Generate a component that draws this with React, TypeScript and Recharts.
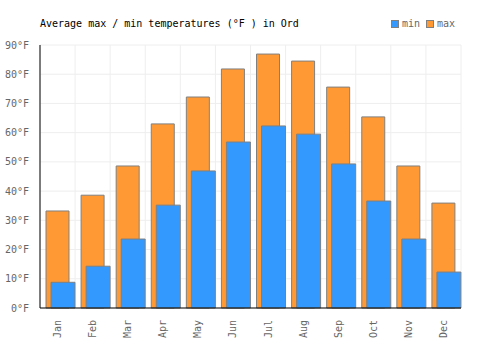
import { BarChart, Bar, XAxis, YAxis, CartesianGrid, Rectangle } from 'recharts';

const months = ['Jan', 'Feb', 'Mar', 'Apr', 'May', 'Jun', 'Jul', 'Aug', 'Sep', 'Oct', 'Nov', 'Dec'];
const maxTemps = [33.2, 38.6, 48.6, 63.0, 72.2, 81.8, 86.9, 84.5, 75.6, 65.4, 48.6, 35.9];
const minTemps = [8.8, 14.3, 23.6, 35.2, 46.9, 56.8, 62.3, 59.5, 49.3, 36.6, 23.6, 12.3];
const yTicks = [0, 10, 20, 30, 40, 50, 60, 70, 80, 90];

const data = months.map((m, i) => ({ month: m, max: maxTemps[i], min: minTemps[i] }));

const FONT = '"DejaVu Sans Mono", monospace';
const BLUE = '#3399ff';
const ORANGE = '#ff9933';
const EDGE = '#808080';

// bars sit a little right of centre in each month slot
const ShiftedBar = (props: any) => <Rectangle {...props} x={props.x + 3} />;

const MonthTick = ({ x, y, payload }: any) => (
  <text
    x={x}
    y={y}
    transform={`rotate(-90, ${x}, ${y})`}
    textAnchor="end"
    dominantBaseline="central"
    fill="#666"
    fontSize={10}
    fontFamily={FONT}
  >
    {payload.value}
  </text>
);

export default function App() {
  return (
    <div style={{ position: 'absolute', left: 0, top: 0, width: 500, height: 350, background: '#fff' }}>
      <div style={{ position: 'absolute', left: 40, top: 18, fontFamily: FONT, fontSize: 10, color: '#000' }}>
        Average max / min temperatures (°F ) in Ord
      </div>
      <div style={{ position: 'absolute', left: 391, top: 18, fontFamily: FONT, fontSize: 10, color: '#666', display: 'flex', alignItems: 'center' }}>
        <span style={{ width: 6, height: 6, background: BLUE, border: `1px solid ${EDGE}`, marginRight: 3 }} />
        <span style={{ marginRight: 6 }}>min</span>
        <span style={{ width: 6, height: 6, background: ORANGE, border: `1px solid ${EDGE}`, marginRight: 3 }} />
        <span>max</span>
      </div>
      <BarChart
        width={500}
        height={350}
        data={data}
        margin={{ top: 45, right: 39, left: 0, bottom: 0 }}
        barGap={-18}
      >
        <CartesianGrid
          stroke="#eeeeee"
          verticalCoordinatesGenerator={({ offset }: any) =>
            months.map((_, i) => offset.left + (i * offset.width) / months.length).concat(offset.left + offset.width)
          }
        />
        <XAxis
          dataKey="month"
          height={42}
          tickLine={false}
          axisLine={{ stroke: '#000' }}
          tick={<MonthTick />}
          tickMargin={6}
          interval={0}
        />
        <YAxis
          width={40}
          domain={[0, 90]}
          ticks={yTicks}
          tickLine={false}
          axisLine={{ stroke: '#000' }}
          tickFormatter={(v: number) => `${v}°F`}
          tick={{ fill: '#666', fontSize: 10, fontFamily: FONT }}
          tickMargin={5}
        />
        <Bar dataKey="max" barSize={23} fill={ORANGE} stroke={EDGE} strokeWidth={1} shape={ShiftedBar} isAnimationActive={false} />
        <Bar dataKey="min" barSize={24} fill={BLUE} stroke={EDGE} strokeWidth={1} shape={ShiftedBar} isAnimationActive={false} />
      </BarChart>
    </div>
  );
}
